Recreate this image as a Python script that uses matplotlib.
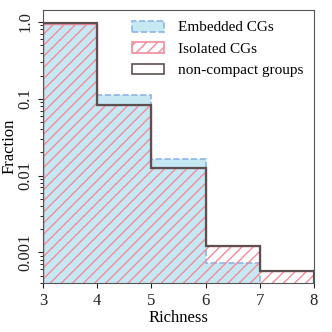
import numpy as np
import matplotlib
matplotlib.use("Agg")
import matplotlib.pyplot as plt

# bin edges (richness) and fractions per bin
richness_edges = [3, 4, 5, 6, 7, 8]
embedded_cgs = [0.95, 0.111, 0.0164, 0.00072, 0.0]
isolated_cgs = [0.95, 0.0835, 0.0124, 0.00121, 0.00058]
non_compact = [0.96, 0.0835, 0.0124, 0.00121, 0.00058]

y_ticks = [1.0, 0.1, 0.01, 0.001]
y_tick_labels = ["1.0", "0.1", "0.01", "0.001"]

plt.rcParams["font.family"] = ["Liberation Serif", "DejaVu Serif"]
plt.rcParams["hatch.linewidth"] = 1.0

BLUE_FILL = "#c5e8f3"
BLUE_EDGE = "#8eb4e3"
PINK = "#f08b9c"
DARK = "#5e4f50"

fig = plt.figure(figsize=(3.32, 3.32), dpi=100)
ax = fig.add_axes([0.1295, 0.1476, 0.8163, 0.8223])

# floor for empty bins on the log axis
floor = 1e-6


def shown(vals):
    vals = np.asarray(vals, dtype=float)
    return np.where(vals > 0, vals, floor)


ax.stairs(shown(embedded_cgs), richness_edges, baseline=floor, fill=True,
          facecolor=BLUE_FILL, edgecolor=BLUE_EDGE, linestyle="--",
          linewidth=1.2, zorder=1)
ax.stairs(shown(isolated_cgs), richness_edges, baseline=floor, fill=True,
          facecolor="none", edgecolor=PINK, hatch="///", linewidth=1.0,
          zorder=2)
ax.stairs(shown(non_compact), richness_edges, baseline=floor, fill=False,
          edgecolor=DARK, linewidth=1.6, zorder=3)

ax.set_yscale("log")
ax.set_xlim(3, 8)
ax.set_ylim(4e-4, 1.43)
ax.set_yticks(y_ticks)
ax.set_yticklabels(y_tick_labels, rotation=90, va="center")
ax.set_xticks(richness_edges)
ax.tick_params(labelsize=12, colors="#222222")
ax.set_xlabel("Richness", fontsize=12, labelpad=1)
ax.set_ylabel("Fraction", fontsize=12, labelpad=0)
for sp in ax.spines.values():
    sp.set_color("#555555")

handles = [
    plt.Rectangle((0, 0), 1, 1, facecolor=BLUE_FILL, edgecolor=BLUE_EDGE,
                  linestyle="--", linewidth=1.2),
    plt.Rectangle((0, 0), 1, 1, facecolor="white", edgecolor=PINK,
                  hatch="///", linewidth=1.2),
    plt.Rectangle((0, 0), 1, 1, facecolor="white", edgecolor=DARK,
                  linewidth=1.2),
]
ax.legend(handles, ["Embedded CGs", "Isolated CGs", "non-compact groups"],
          loc="upper right", frameon=False, fontsize=11,
          handlelength=2.1, handleheight=0.72, handletextpad=0.9,
          labelspacing=0.5, borderaxespad=0.3)

fig.savefig("out.png", dpi=100)
